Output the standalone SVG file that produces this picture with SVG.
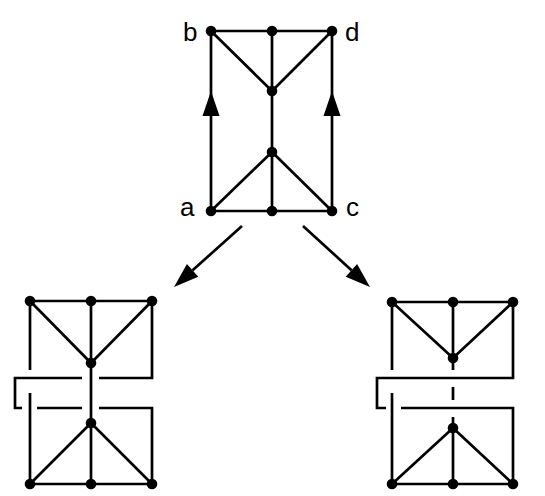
<svg xmlns="http://www.w3.org/2000/svg" xmlns:xlink="http://www.w3.org/1999/xlink" width="545" height="496" viewBox="0 0 545 496">
<style>
.e{stroke:#000;stroke-width:2.7;fill:none;stroke-linecap:butt;stroke-linejoin:miter}
.n{fill:#000}
.lbl{font-family:"Liberation Sans",Arial,sans-serif;font-size:26px;fill:#000}
</style>
<defs>
<path id="head" d="M0,0 L-25,-8.5 L-25,8.5 Z" fill="#000"/>
<circle id="dot" r="5.3" fill="#000"/>
</defs>
<rect width="545" height="496" fill="#fff"/>
<g id="connectors">
<g id="top-edges">
<path class="e" d="M211,31 H332 M211,31 L272,91 M272,31 V211 M332,31 L272,91 M272,152 L211,211 M272,152 L332,211 M211,211 H332 M211,211 V31 M332,211 V31"/>
<use xlink:href="#head" href="#head" transform="translate(211,91) rotate(-90)"/>
<use xlink:href="#head" href="#head" transform="translate(332,91) rotate(-90)"/>
</g>
<g id="split-arrows">
<path class="e" d="M242,226 L192.6,270.3 M303,226 L351.5,270.2"/>
<use xlink:href="#head" href="#head" transform="translate(174,287) rotate(138.1)"/>
<use xlink:href="#head" href="#head" transform="translate(370,287) rotate(41.9)"/>
</g>
<g id="left-edges">
<path class="e" d="M30,301 H152 M30,301 L91,363 M91,301 V484 M152,301 L91,363 M91,423 L30,484 M91,423 L152,484 M30,484 H152 M30,301 V370 M30,484 V393"/>
<path class="e" d="M152,301 V378 H99 M82,378 H15 V408 H22 M37,408 H82 M99,408 H152 V484"/>
</g>
<g id="right-edges">
<path class="e" d="M392,302 H513 M392,302 L453,358 M453,302 V370 M513,302 L453,358 M453,387 V400 M453,417 V484 M453,428 L392,484 M453,428 L513,484 M392,484 H513 M392,302 V370 M392,484 V393"/>
<path class="e" d="M513,302 V378 H377 V408 H386 M401,408 H513 V484"/>
</g>
</g>
<g id="top-graph">
<g id="node-b"><use xlink:href="#dot" href="#dot" x="211" y="31"/><text class="lbl" x="183" y="41">b</text></g>
<g id="node-top-mid"><use xlink:href="#dot" href="#dot" x="272" y="31"/></g>
<g id="node-d"><use xlink:href="#dot" href="#dot" x="332" y="31"/><text class="lbl" x="345" y="41">d</text></g>
<g id="node-upper"><use xlink:href="#dot" href="#dot" x="272" y="91"/></g>
<g id="node-lower"><use xlink:href="#dot" href="#dot" x="272" y="152"/></g>
<g id="node-a"><use xlink:href="#dot" href="#dot" x="211" y="211"/><text class="lbl" x="180" y="216">a</text></g>
<g id="node-bottom-mid"><use xlink:href="#dot" href="#dot" x="272" y="211"/></g>
<g id="node-c"><use xlink:href="#dot" href="#dot" x="332" y="211"/><text class="lbl" x="346" y="216">c</text></g>
</g>
<g id="left-graph">
<g id="L-tl"><use xlink:href="#dot" href="#dot" x="30" y="301"/></g>
<g id="L-tm"><use xlink:href="#dot" href="#dot" x="91" y="301"/></g>
<g id="L-tr"><use xlink:href="#dot" href="#dot" x="152" y="301"/></g>
<g id="L-u"><use xlink:href="#dot" href="#dot" x="91" y="363"/></g>
<g id="L-l"><use xlink:href="#dot" href="#dot" x="91" y="423"/></g>
<g id="L-bl"><use xlink:href="#dot" href="#dot" x="30" y="484"/></g>
<g id="L-bm"><use xlink:href="#dot" href="#dot" x="91" y="484"/></g>
<g id="L-br"><use xlink:href="#dot" href="#dot" x="152" y="484"/></g>
</g>
<g id="right-graph">
<g id="R-tl"><use xlink:href="#dot" href="#dot" x="392" y="302"/></g>
<g id="R-tm"><use xlink:href="#dot" href="#dot" x="453" y="302"/></g>
<g id="R-tr"><use xlink:href="#dot" href="#dot" x="513" y="302"/></g>
<g id="R-u"><use xlink:href="#dot" href="#dot" x="453" y="358"/></g>
<g id="R-l"><use xlink:href="#dot" href="#dot" x="453" y="428"/></g>
<g id="R-bl"><use xlink:href="#dot" href="#dot" x="392" y="484"/></g>
<g id="R-bm"><use xlink:href="#dot" href="#dot" x="453" y="484"/></g>
<g id="R-br"><use xlink:href="#dot" href="#dot" x="513" y="484"/></g>
</g>
</svg>
